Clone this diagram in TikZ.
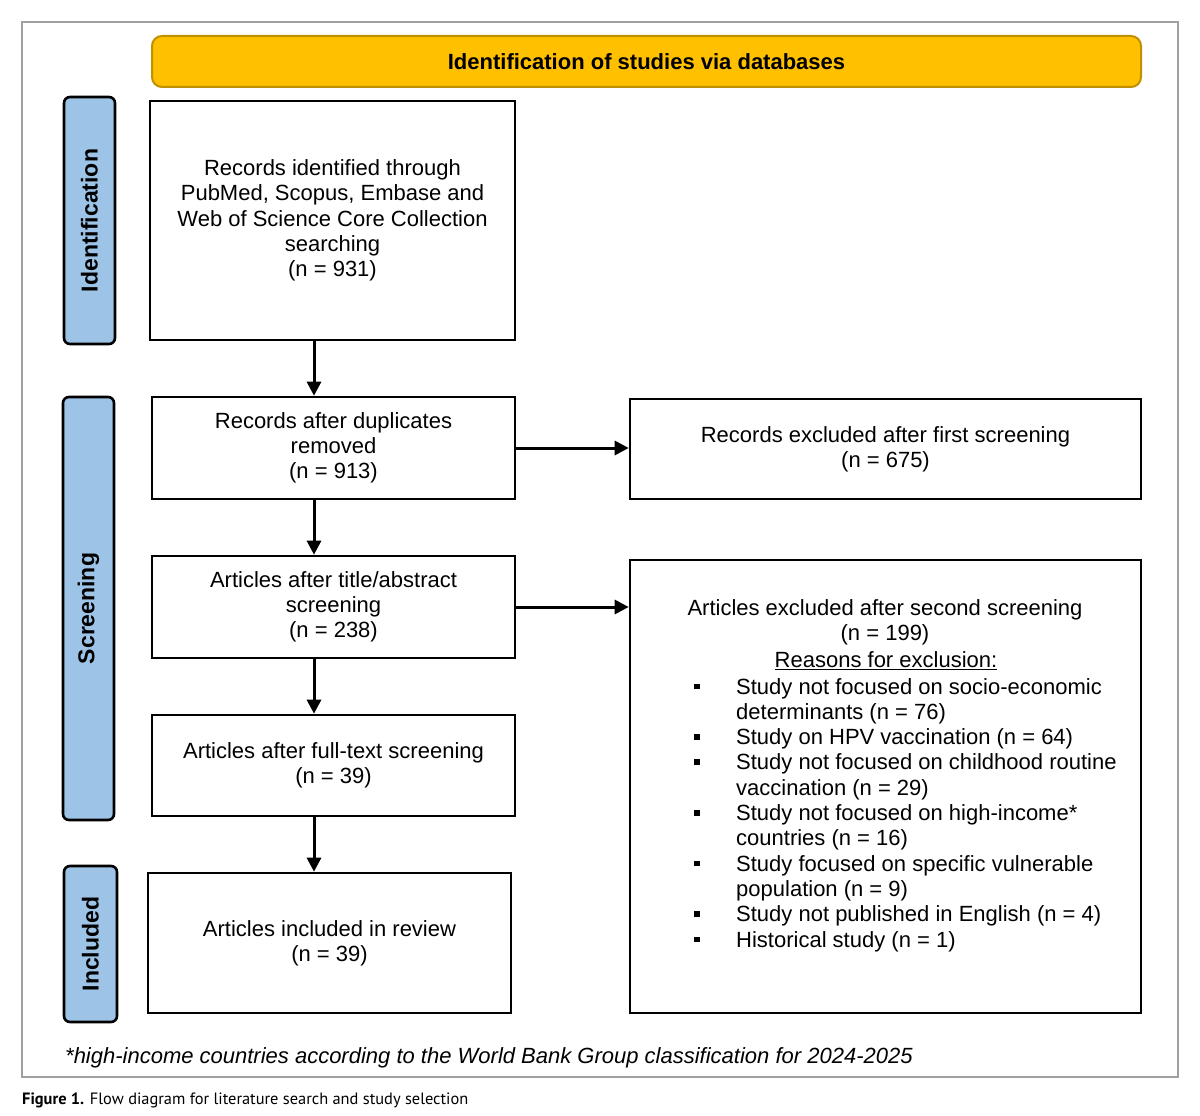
\documentclass[tikz,border=0pt]{standalone}
\usepackage{fontspec}
\setmainfont{Liberation Sans}
\newfontfamily\capfont{PT Sans}
\usetikzlibrary{arrows.meta}

\definecolor{headgold}{RGB}{255,192,0}
\definecolor{headedge}{RGB}{191,144,0}
\definecolor{phaseblue}{RGB}{157,195,230}
\definecolor{framegray}{RGB}{160,160,160}

\newcommand{\boxfont}{\fontsize{22}{25.3}\selectfont}
\newcommand{\sq}{\rule[5pt]{5.5pt}{5.5pt}}

\begin{document}
\begin{tikzpicture}[
    x=1pt, y=-1pt,
    box/.style={draw, line width=2.6pt, align=center, font=\boxfont, inner sep=0pt},
    phase/.style={draw, line width=2.6pt, fill=phaseblue, rounded corners=6pt, rotate=90,
        font=\fontsize{23}{28}\selectfont\bfseries, inner sep=0pt},
    flow/.style={line width=3pt, -{Triangle[length=14pt, width=14pt]}}
]

    % 1. Frame and page size
    \useasboundingbox (0,0) rectangle (1200,1116);
    \draw[framegray, line width=1.5pt] (22,22) rectangle (1178,1077);

    % 2. Header bar
    \node[draw=headedge, fill=headgold, line width=2pt, rounded corners=10pt,
        minimum width=989pt, minimum height=51pt,
        font=\fontsize{22}{26}\selectfont\bfseries] (head) at (646.5,61.5)
        {Identification of studies via databases};

    % 3. Phase labels (left side)
    \node[phase, minimum width=247pt, minimum height=51pt] (phid) at (89.5,220.5) {Identification};
    \node[phase, minimum width=423pt, minimum height=51pt] (phscr) at (88.5,608.5) {Screening};
    \node[phase, minimum width=156pt, minimum height=53pt] (phinc) at (90.5,944) {Included};

    % 4. Main column
    \node[box, minimum width=365pt, minimum height=239pt] (found) at (332.5,220.5)
        {Records identified through\\PubMed, Scopus, Embase and\\Web of Science Core Collection\\searching\\(n = 931)};
    \node[box, minimum width=363pt, minimum height=102pt] (dupl) at (333.5,448)
        {Records after duplicates\\removed\\(n = 913)};
    \node[box, minimum width=363pt, minimum height=102pt] (screened) at (333.5,607)
        {Articles after title/abstract\\screening\\(n = 238)};
    \node[box, minimum width=363pt, minimum height=101pt] (fulltext) at (333.5,765.5)
        {Articles after full-text screening\\(n = 39)};
    \node[box, minimum width=363pt, minimum height=140pt] (incl) at (329.5,943)
        {Articles included in review\\(n = 39)};

    % 5. Exclusion boxes (right side)
    \node[box, minimum width=511pt, minimum height=100pt] (excl1) at (885.5,449)
        {Records excluded after first screening\\(n = 675)};
    \node[box, minimum width=511pt, minimum height=453pt] (excl2) at (885.5,786.5) {};
    \node[font=\boxfont, align=center, inner sep=0pt] (excl2title) at (885,622)
        {Articles excluded after second screening\\(n = 199)};
    \node[font=\boxfont, inner sep=0pt] (reasonhead) at (886,661) {\underline{Reasons for exclusion:}};
    \node[anchor=base west, inner sep=0pt, font=\boxfont] (reasons) at (694,694) {%
        \begin{tabular}[t]{@{}p{42pt}@{}l@{}}
        \sq & Study not focused on socio-economic\\
            & determinants (n = 76)\\
        \sq & Study on HPV vaccination (n = 64)\\
        \sq & Study not focused on childhood routine\\
            & vaccination (n = 29)\\
        \sq & Study not focused on high-income*\\
            & countries (n = 16)\\
        \sq & Study focused on specific vulnerable\\
            & population (n = 9)\\
        \sq & Study not published in English (n = 4)\\
        \sq & Historical study (n = 1)
        \end{tabular}};

    % 6. Arrows
    \coordinate (col) at (314,0);
    \draw[flow] (found.south -| col) -- (dupl.north -| col);
    \draw[flow] (dupl.south -| col) -- (screened.north -| col);
    \draw[flow] (screened.south -| col) -- (fulltext.north -| col);
    \draw[flow] (fulltext.south -| col) -- (incl.north -| col);
    \draw[flow] (dupl.east) -- (dupl.east -| excl1.west);
    \draw[flow] (screened.east) -- (screened.east -| excl2.west);

    % 7. Footnote and caption
    \node[anchor=base west, inner sep=0pt, font=\fontsize{22}{26}\selectfont\itshape] (note) at (65,1063)
        {*high-income countries according to the World Bank Group classification for 2024-2025};
    \node[anchor=base west, inner sep=0pt, font=\capfont\fontsize{16.4}{19}\selectfont] (caption) at (22,1104)
        {\textbf{Figure 1.} Flow diagram for literature search and study selection};

\end{tikzpicture}
\end{document}
